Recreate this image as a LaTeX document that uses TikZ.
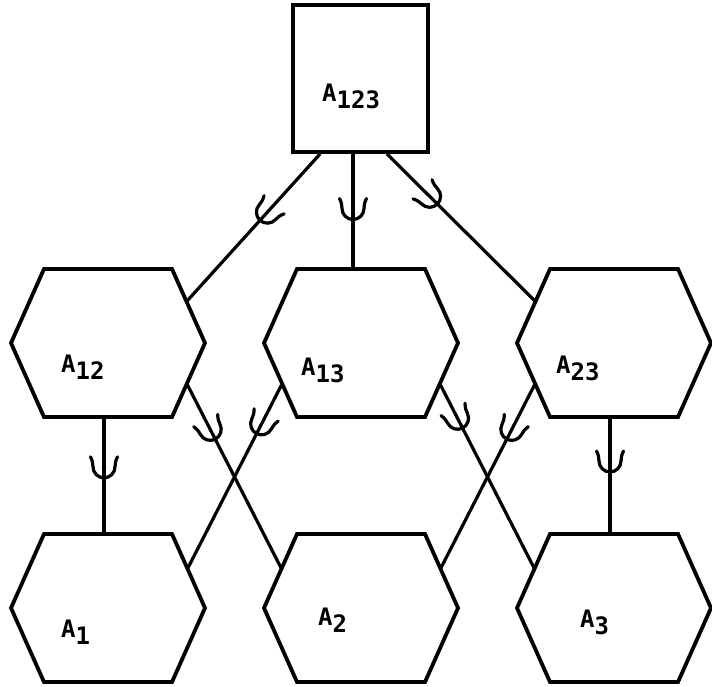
\documentclass[tikz,border=0pt]{standalone}
\usepackage{fontspec}
\newfontfamily\labfont{DejaVu Sans Mono}
\usetikzlibrary{calc}
\tikzset{
  hexa/.style={draw=none, rectangle, minimum width=194pt, minimum height=148pt, inner sep=0pt, outer sep=0pt},
  hexline/.style={line width=3.8pt, line join=miter},
  boxnode/.style={draw, line width=3.8pt, minimum width=135pt, minimum height=147pt, inner sep=0pt},
  conn/.style={line width=3.2pt},
  lbl/.style={font={\labfont\bfseries\fontsize{24}{28}\selectfont}, inner sep=0pt, anchor=base west},
  fork/.pic={\draw[line width=3.2pt, line cap=round]
     (21,13.5) .. controls (17,11.5) and (14,11) .. (11,11)
     .. controls (5,11) and (0,6) .. (0,0)
     .. controls (0,-6) and (5,-11) .. (11,-11)
     .. controls (14,-11) and (17,-11.5) .. (21,-13.5);}
}
\newcommand\mkhex[3]{%
  \node[hexa] (#1) at (#2,#3) {};
  \draw[hexline] ($(#1.north west)+(33,0)$) coordinate (#1-tl)
    -- ($(#1.north east)+(-33,0)$) coordinate (#1-tr)
    -- (#1.east)
    -- ($(#1.south east)+(-33,0)$) coordinate (#1-br)
    -- ($(#1.south west)+(33,0)$) coordinate (#1-bl)
    -- (#1.west) -- cycle;
}
\newcommand\sub[1]{\raisebox{-7pt}{#1}}
\begin{document}
\begin{tikzpicture}[x=1pt,y=-1pt]
\useasboundingbox (0,0) rectangle (712,687);
% top box
\node[boxnode] (box) at (360.5,78.5) {};
\node[lbl] (l123) at (322,102) {A\sub{123}};
% hexagons
\mkhex{h12}{108}{343}
\mkhex{h13}{361}{343}
\mkhex{h23}{614}{343}
\mkhex{h1}{108}{608}
\mkhex{h2}{361}{608}
\mkhex{h3}{614}{608}
% labels
\node[lbl] (l12) at (61,372) {A\sub{12}};
\node[lbl] (l13) at (301,375) {A\sub{13}};
\node[lbl] (l23) at (556,373) {A\sub{23}};
\node[lbl] (l1) at (61,637) {A\sub{1}};
\node[lbl] (l2) at (318,625) {A\sub{2}};
\node[lbl] (l3) at (580,627) {A\sub{3}};
% connectors from box
\draw[conn] ($(h12-tr)!0.44!(h12.east)$) -- ($(box.south west)+(29,0)$)
   pic[pos=0.55,sloped,allow upside down]{fork};
\coordinate (c13) at ($(h13.north)+(-8,0)$);
\draw[conn] (c13) -- (c13 |- box.south)
   pic[pos=0.43,sloped,allow upside down]{fork};
\draw[conn] ($(h23-tl)!0.44!(h23.west)$) -- ($(box.south east)+(-43,0)$)
   pic[pos=0.66,sloped,allow upside down]{fork};
% connectors middle to bottom
\coordinate (c1) at ($(h1.north)+(-4,0)$);
\draw[conn] (c1) -- (c1 |- h12.south)
   pic[pos=0.48,sloped,allow upside down]{fork};
\draw[conn] ($(h2-tl)!0.47!(h2.west)$) -- ($(h12.east)!0.55!(h12-br)$)
   pic[pos=0.70,sloped,allow upside down]{fork};
\draw[conn] ($(h1-tr)!0.47!(h1.east)$) -- ($(h13.west)!0.55!(h13-bl)$)
   pic[pos=0.73,sloped,allow upside down]{fork};
\draw[conn] ($(h3-tl)!0.47!(h3.west)$) -- ($(h13.east)!0.55!(h13-br)$)
   pic[pos=0.76,sloped,allow upside down]{fork};
\draw[conn] ($(h2-tr)!0.47!(h2.east)$) -- ($(h23.west)!0.55!(h23-bl)$)
   pic[pos=0.70,sloped,allow upside down]{fork};
\coordinate (c3) at ($(h3.north)+(-4,0)$);
\draw[conn] (c3) -- (c3 |- h23.south)
   pic[pos=0.53,sloped,allow upside down]{fork};
\end{tikzpicture}
\end{document}
